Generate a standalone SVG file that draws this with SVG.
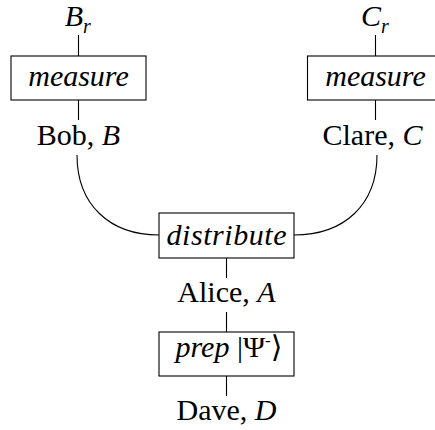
<svg xmlns="http://www.w3.org/2000/svg" width="435" height="430" viewBox="0 0 435 430">
<style>
text{font-family:"Liberation Serif","DejaVu Serif",serif;font-size:30px;fill:#000;text-anchor:middle}
.i{font-style:italic}
.box{fill:#fff;stroke:#000;stroke-width:1.1}
.w{fill:none;stroke:#000;stroke-width:1.1}
.sub{font-size:20px;font-style:italic}
</style>
<rect width="435" height="430" fill="#fff"/>
<g id="connectors">
<line class="w" x1="78.5" y1="35" x2="78.5" y2="56"/>
<line class="w" x1="78.5" y1="100" x2="78.5" y2="120"/>
<line class="w" x1="375.5" y1="35" x2="375.5" y2="56"/>
<line class="w" x1="375.5" y1="100" x2="375.5" y2="120"/>
<path class="w" d="M77,155 C77,205 110,235 159,235"/>
<path class="w" d="M377,155 C377,205 344,235 294,235"/>
<line class="w" x1="226.5" y1="258" x2="226.5" y2="278"/>
<line class="w" x1="226.5" y1="312" x2="226.5" y2="332"/>
<line class="w" x1="226.5" y1="376" x2="226.5" y2="396"/>
</g>
<g id="Br"><text x="74" y="26" class="i">B</text><text x="87" y="33" class="sub">r</text></g>
<g id="Cr"><text x="371" y="26" class="i">C</text><text x="385" y="33" class="sub">r</text></g>
<g id="measureB"><rect class="box" x="11" y="56" width="135" height="44"/><text x="78.5" y="86" class="i">measure</text></g>
<g id="measureC"><rect class="box" x="307.5" y="56" width="135" height="44"/><text x="375.5" y="86" class="i">measure</text></g>
<g id="Bob"><text x="78.5" y="145">Bob, <tspan class="i">B</tspan></text></g>
<g id="Clare"><text x="372.5" y="145">Clare, <tspan class="i">C</tspan></text></g>
<g id="distribute"><rect class="box" x="159" y="213" width="135" height="45"/><text x="226.5" y="245" class="i" textLength="120" lengthAdjust="spacing">distribute</text></g>
<g id="Alice"><text x="226.5" y="302">Alice, <tspan class="i">A</tspan></text></g>
<g id="prep"><rect class="box" x="159" y="332" width="135" height="44"/><text x="229" y="357"><tspan class="i">prep</tspan> |Ψ<tspan font-size="17" dy="-11">-</tspan><tspan dy="11">⟩</tspan></text></g>
<g id="Dave"><text x="226.5" y="420">Dave, <tspan class="i">D</tspan></text></g>
</svg>
